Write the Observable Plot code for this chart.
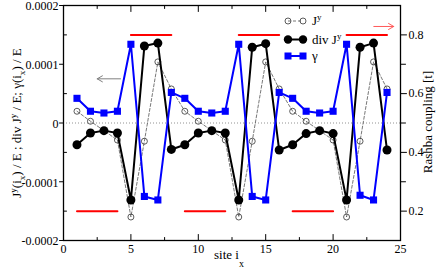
<!DOCTYPE html>
<html><head><meta charset="utf-8">
<script src="https://cdn.jsdelivr.net/npm/d3@7"></script>
<script src="https://cdn.jsdelivr.net/npm/@observablehq/plot@0.6"></script>
<style>
body{margin:0;background:#fff;}
#chart{width:436px;height:272px;}
</style></head><body><div id="chart"></div>
<script>
// data (currents in units of 1e-4)
const sites = [1,2,3,4,5,6,7,8,9,10,11,12,13,14,15,16,17,18,19,20,21,22,23,24];
const currentJ = [0.20,0.03,-0.13,-0.29,-1.60,-0.31,1.04,0.58, 0.20,0.03,-0.13,-0.29,-1.60,-0.31,1.04,0.58, 0.20,0.03,-0.13,-0.29,-1.60,-0.31,1.04,0.58];
const divJ = [-0.37,-0.17,-0.13,-0.17,-1.31,1.31,1.36,-0.45, -0.37,-0.17,-0.13,-0.17,-1.31,1.29,1.35,-0.46, -0.37,-0.18,-0.13,-0.18,-1.31,1.29,1.36,-0.46];
const gammaV = [0.42,0.20,0.17,0.20,1.34,-1.25,-1.31,0.52, 0.42,0.20,0.17,0.20,1.34,-1.25,-1.31,0.52, 0.42,0.20,0.17,0.20,1.34,-1.23,-1.31,0.52];
const rashba = [0.2,0.2,0.2,0.2,0.8,0.8,0.8,0.8, 0.2,0.2,0.2,0.2,0.8,0.8,0.8,0.8, 0.2,0.2,0.2,0.2,0.8,0.8,0.8,0.8];
const rashbaSegment = [1,1,1,1,2,2,2,2,3,3,3,3,4,4,4,4,5,5,5,5,6,6,6,6];

const xMajor = [0,5,10,15,20,25];
const xMinor = [2.5,7.5,12.5,17.5,22.5];
const yMajor = [-2,-1,0,1,2];
const yTickLabels = ["-0.0002","-0.0001","0","0.0001","0.0002"];
const yMinor = [-1.5,-0.5,0.5,1.5];
const rMajor = [0.2,0.4,0.6,0.8];
const rTickLabels = ["0.2","0.4","0.6","0.8"];
const rMinor = [0.3,0.5,0.7];

// annotation arrows (pointing to the axis each series uses)
const arrows = [
  {x1:4.23, x2:2.50, y:0.752, color:"#808080"},
  {x1:23.02, x2:24.50, y:1.643, color:"#ff5a5a"}
];

const data = sites.map((s,i)=>({site:s, j:currentJ[i], div:divJ[i], g:gammaV[i], r:rashba[i], seg:rashbaSegment[i]}));
const toLeft = d3.scaleLinear().domain([0.1,0.9]).range([-2,2]);

const tickShape = {draw(c,l){c.moveTo(0,0); c.lineTo(0,-l);}};
const vt = (arr, opts) => Plot.vector(arr, {anchor:"start", shape:tickShape, stroke:"black", strokeWidth:1, ...opts});

const plot = Plot.plot({
  width:436, height:272,
  marginLeft:63, marginRight:36, marginTop:5, marginBottom:32,
  style:{fontFamily:"'Liberation Serif','Times New Roman',serif", fontSize:"12px", background:"white", overflow:"visible"},
  x:{domain:[0,25]},
  y:{domain:[-2,2]},
  marks:[
    Plot.ruleY([0], {stroke:"#777", strokeWidth:0.8, strokeDasharray:"1,2"}),
    Plot.line(data, {x:"site", y:d=>toLeft(d.r), z:"seg", stroke:"#ff0000", strokeWidth:2}),
    Plot.line(data, {x:"site", y:"j", stroke:"#555", strokeWidth:0.8, strokeDasharray:"3,2"}),
    Plot.dot(data, {x:"site", y:"j", r:3, stroke:"#333", strokeWidth:0.8, fill:"none"}),
    Plot.line(data, {x:"site", y:"div", stroke:"black", strokeWidth:2}),
    Plot.dot(data, {x:"site", y:"div", r:4.5, fill:"black"}),
    Plot.line(data, {x:"site", y:"g", stroke:"#0000ff", strokeWidth:2}),
    Plot.dot(data, {x:"site", y:"g", symbol:"square", r:4, fill:"#0000ff"}),
    Plot.arrow(arrows, {x1:"x1", x2:"x2", y1:"y", y2:"y", stroke:"color", strokeWidth:1, headLength:9, bend:0}),
    // ticks
    vt(xMajor, {x:d=>d, frameAnchor:"bottom", length:6, rotate:0}),
    vt(xMinor, {x:d=>d, frameAnchor:"bottom", length:3, rotate:0}),
    vt(xMajor, {x:d=>d, frameAnchor:"top", length:6, rotate:180}),
    vt(xMinor, {x:d=>d, frameAnchor:"top", length:3, rotate:180}),
    vt(yMajor, {y:d=>d, frameAnchor:"left", length:4, rotate:-90}),
    vt(yMinor, {y:d=>d, frameAnchor:"left", length:3, rotate:90}),
    vt(rMajor, {y:d=>toLeft(d), frameAnchor:"right", length:6, rotate:90}),
    vt(rMinor, {y:d=>toLeft(d), frameAnchor:"right", length:5, rotate:90}),
    Plot.axisX({ticks:xMajor, tickSize:0, tickPadding:4, label:null, fontSize:12}),
    Plot.axisY({ticks:yMajor, tickSize:0, tickPadding:5, dy:1, label:null, fontSize:12, tickFormat:(d)=>yTickLabels[yMajor.indexOf(d)]}),
    Plot.axisY({anchor:"right", ticks:rMajor.map(toLeft), tickSize:0, tickPadding:8, label:null, fontSize:12,
      tickFormat:(d)=>rTickLabels[rMajor.findIndex(v=>Math.abs(toLeft(v)-d)<1e-9)]}),
    Plot.frame({stroke:"black", strokeWidth:1.3})
  ]
});
document.getElementById("chart").appendChild(plot);

const svg = d3.select(plot);
const ff = "'Liberation Serif','Times New Roman',serif";
// x label
const xl = svg.append("text").attr("x",229).attr("y",259).attr("text-anchor","middle")
  .attr("font-family",ff).attr("font-size",13).attr("fill","black");
xl.append("tspan").text("site i");
xl.append("tspan").attr("dy",8).attr("font-size",10).text("x");
// left y label, fitted to the span it has in the reference
const yl = svg.append("text").attr("transform","translate(21,123) rotate(-90)").attr("text-anchor","middle")
  .attr("font-family",ff).attr("font-size",13).attr("fill","black");
const parts = [["J",0,1],["y",-5,0.7],["(i",5,1],["x",4,0.7],[") / E ; div J",-4,1],["y",-5,0.7],[" / E; γ(i",5,1],["x",4,0.7],[") / E",-4,1]];
function buildLabel(fs){
  yl.selectAll("tspan").remove();
  parts.forEach(([t,dy,k])=>yl.append("tspan").attr("dy",dy*fs/13).attr("font-size",fs*k).text(t));
}
buildLabel(13);
const len = yl.node().getComputedTextLength();
if (len > 200) buildLabel(13*200/len);
// right y label
svg.append("text").attr("transform","translate(432,122) rotate(-90)").attr("text-anchor","middle")
  .attr("font-family",ff).attr("font-size",13).attr("fill","black").text("Rashba coupling [t]");

// legend
const lg = svg.append("g");
const rows = [{y:21, key:"j"},{y:39.5, key:"div"},{y:56, key:"g"}];
rows.forEach(r=>{
  if(r.key==="j"){
    lg.append("line").attr("x1",288).attr("x2",303).attr("y1",r.y).attr("y2",r.y).attr("stroke","#555").attr("stroke-width",0.8).attr("stroke-dasharray","3,2");
    [288,303].forEach(cx=>lg.append("circle").attr("cx",cx).attr("cy",r.y).attr("r",3).attr("fill","none").attr("stroke","#333").attr("stroke-width",0.8));
  } else if(r.key==="div"){
    lg.append("line").attr("x1",288).attr("x2",303).attr("y1",r.y).attr("y2",r.y).attr("stroke","black").attr("stroke-width",2);
    [288,303].forEach(cx=>lg.append("circle").attr("cx",cx).attr("cy",r.y).attr("r",4.2).attr("fill","black"));
  } else {
    lg.append("line").attr("x1",288).attr("x2",303).attr("y1",r.y).attr("y2",r.y).attr("stroke","#0000ff").attr("stroke-width",2);
    [288,303].forEach(cx=>lg.append("rect").attr("x",cx-3.5).attr("y",r.y-3.5).attr("width",7).attr("height",7).attr("fill","#0000ff"));
  }
});
const lt = (y) => lg.append("text").attr("x",312).attr("y",y).attr("font-family",ff).attr("font-size",13).attr("fill","black").attr("text-anchor","start");
const t1 = lt(25);
t1.append("tspan").text("J"); t1.append("tspan").attr("dy",-5).attr("font-size",9).text("y");
const t2 = lt(44);
t2.append("tspan").text("div J"); t2.append("tspan").attr("dy",-5).attr("font-size",9).text("y");
lt(60).text("γ");
</script></body></html>
